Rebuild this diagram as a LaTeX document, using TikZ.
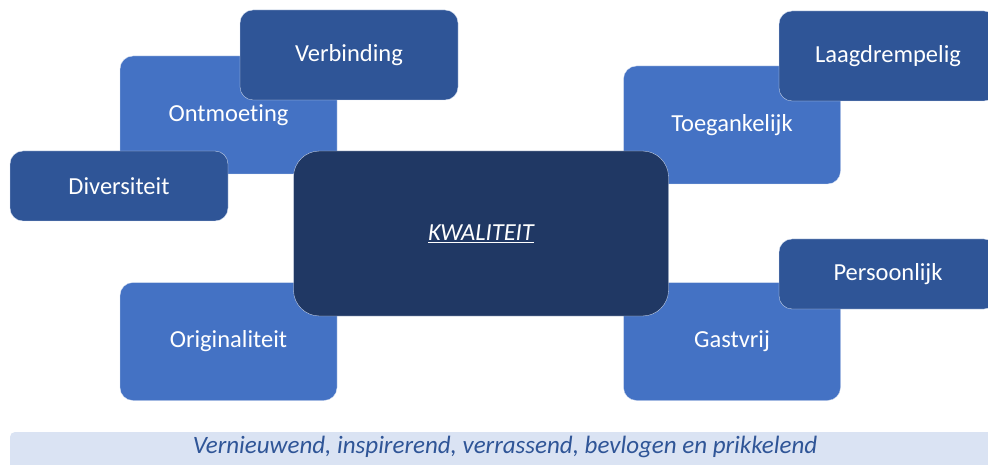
\documentclass[tikz,border=0pt]{standalone}
\usepackage{fontspec}
\setmainfont{Carlito}[Ligatures=NoCommon]
\usepackage{tikz}
\definecolor{lightbox}{HTML}{4472C4}
\definecolor{midbox}{HTML}{2F5597}
\definecolor{darkbox}{HTML}{203864}
\definecolor{banner}{HTML}{DAE3F3}
\tikzset{
    Box/.style = {rectangle,rounded corners=13pt,draw=white!80!lightbox,line width=0.3pt,
        text=white,font=\fontsize{24.5}{28}\selectfont,inner sep=0pt},
    Main/.style = {Box,fill=lightbox,minimum width=217pt,minimum height=118pt},
    Sub/.style = {Box,fill=midbox,minimum width=218pt},
    Core/.style = {Box,fill=darkbox,rounded corners=26pt,minimum width=375pt,minimum height=165pt}
}

\begin{document}
\begin{tikzpicture}[x=1pt,y=-1pt]
        \useasboundingbox (0,0) rectangle (988,465);
        % linker kant
        \node[Main] (ontm) at (228.5,115) {Ontmoeting};
        \node[Sub,minimum height=90pt] (verb) at (349,55) {Verbinding};
        \node[Sub,minimum height=70pt] (div) at (119,186) {Diversiteit};
        % rechter kant
        \node[Main] (toeg) at (732,125) {Toegankelijk};
        \node[Sub,minimum height=90pt] (laag) at (888,56) {Laagdrempelig};
        \node[Main] (gast) at (732,341.5) {Gastvrij};
        \node[Sub,minimum height=70pt] (pers) at (888,274) {Persoonlijk};
        \node[Main] (orig) at (228.5,341.5) {Originaliteit};
        % midden
        \node[Core] (kwal) at (481,233.5) {\itshape\underline{KWALITEIT}};
        % onderbalk
        \fill[banner,rounded corners=5pt] (10,432) rectangle (1000,480);
        \node[text=midbox,font=\fontsize{25}{28}\selectfont\itshape] (slogan) at (505,447)
            {Vernieuwend, inspirerend, verrassend, bevlogen en prikkelend};
\end{tikzpicture}
\end{document}
